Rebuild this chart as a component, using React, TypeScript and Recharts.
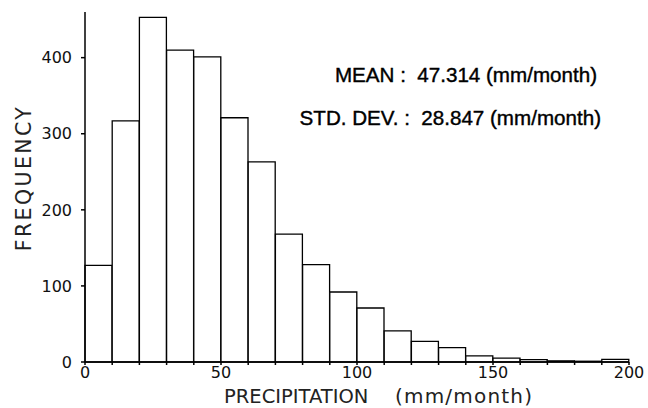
import { BarChart, Bar, XAxis, YAxis } from "recharts"

// histogram of monthly precipitation, bins of 10 mm/month
const binStarts = [0, 10, 20, 30, 40, 50, 60, 70, 80, 90, 100, 110, 120, 130, 140, 150, 160, 170, 180, 190]
const frequency = [127, 317, 453, 410, 401, 321, 263, 168, 128, 92, 71, 41, 27, 19, 8, 5, 3, 1.5, 1, 3.5]
const xTicks = [0, 10, 20, 30, 40, 50, 60, 70, 80, 90, 100, 110, 120, 130, 140, 150, 160, 170, 180, 190, 200]
const yTicks = [0, 100, 200, 300, 400]
const meanText = "MEAN :  47.314 (mm/month)"
const stdText = "STD. DEV. :  28.847 (mm/month)"

const data = binStarts.map((s, i) => ({ x: s + 5, freq: frequency[i] }))

const axisFont = "'DejaVu Sans', sans-serif"
const statFont = "'Liberation Sans', Arial, sans-serif"

export default function App() {
  return (
    <div style={{ position: "absolute", left: 0, top: 0, width: 648, height: 408, background: "#fff" }}>
      <BarChart
        width={648}
        height={408}
        data={data}
        barCategoryGap={0}
        barGap={0}
        margin={{ top: 12, right: 19, left: 25, bottom: 0 }}
      >
        <XAxis
          dataKey="x"
          type="number"
          domain={[0, 200]}
          ticks={xTicks}
          interval={0}
          tickFormatter={(v) => (v % 50 === 0 ? String(v) : "")}
          height={46}
          stroke="#000"
          strokeWidth={1.5}
          tickSize={3}
          tickMargin={2}
          tick={{ fill: "#111", fontSize: 16, fontFamily: axisFont }}
        />
        <YAxis
          domain={[0, 460]}
          ticks={yTicks}
          width={60}
          stroke="#000"
          strokeWidth={1.5}
          tickSize={4}
          tickMargin={9}
          tick={{ fill: "#111", fontSize: 16, fontFamily: axisFont }}
        />
        <Bar dataKey="freq" fill="#fff" stroke="#000" strokeWidth={1.3} isAnimationActive={false} />
        <text x={24} y={178} transform="rotate(-90 24 178)" textAnchor="middle" dominantBaseline="central"
          style={{ fontFamily: axisFont, fontSize: 20.5, letterSpacing: 2.4, fill: "#222" }}>FREQUENCY</text>
        <text x={224} y={403} style={{ fontFamily: axisFont, fontSize: 19.5, fill: "#222" }}>
          PRECIPITATION
        </text>
        <text x={395} y={403} style={{ fontFamily: axisFont, fontSize: 20, letterSpacing: 1.2, fill: "#222" }}>
          (mm/month)
        </text>
        <text x={597} y={82} textAnchor="end" stroke="#000" strokeWidth={0.4}
          style={{ fontFamily: statFont, fontSize: 20.6, fill: "#000", whiteSpace: "pre" }}>
          {meanText}
        </text>
        <text x={601} y={125} textAnchor="end" stroke="#000" strokeWidth={0.4}
          style={{ fontFamily: statFont, fontSize: 20.6, fill: "#000", whiteSpace: "pre" }}>
          {stdText}
        </text>
      </BarChart>
    </div>
  )
}
